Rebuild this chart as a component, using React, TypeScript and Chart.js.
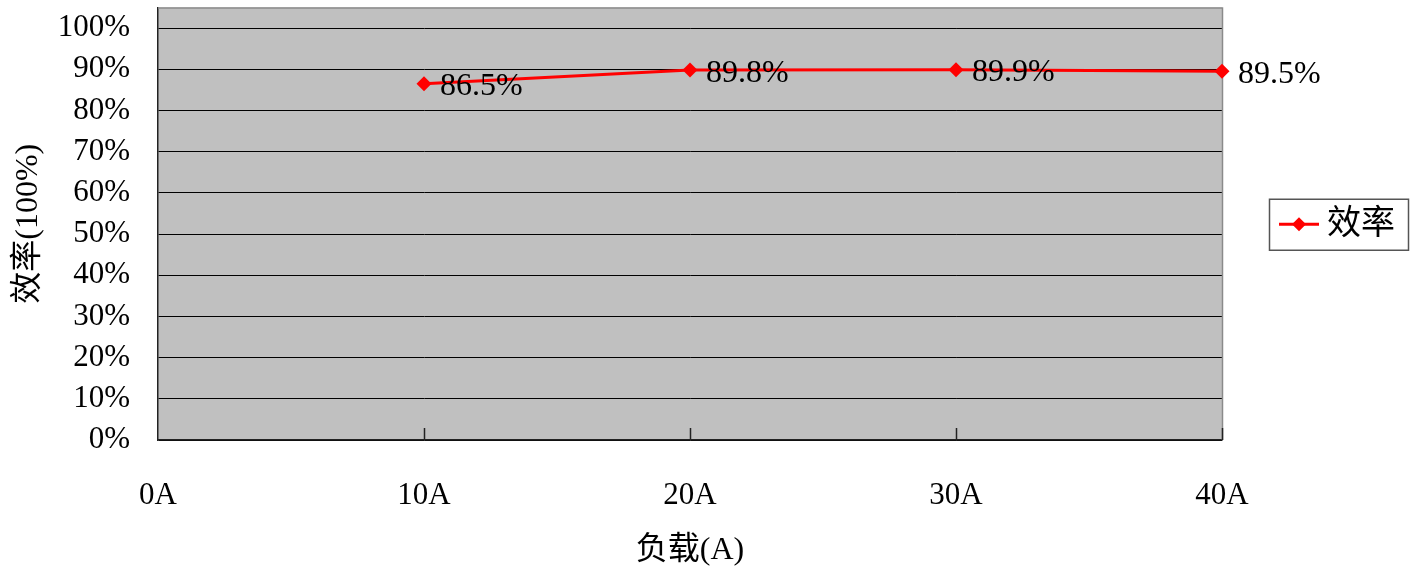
import React, { useEffect, useRef } from "react";
import { Chart, registerables } from "chart.js";

Chart.register(...registerables);

const loads = [10, 20, 30, 40];
const efficiency = [0.865, 0.898, 0.899, 0.895];
const xTickValues = [0, 10, 20, 30, 40];
const yTickValues = [0, 0.1, 0.2, 0.3, 0.4, 0.5, 0.6, 0.7, 0.8, 0.9, 1.0];
const seriesName = "效率";
const xTitle = "负载(A)";
const yTitle = "效率(100%)";

const FONT_FAMILY = "'Liberation Serif', 'Noto Sans CJK SC', serif";

const bgPlugin = {
  id: "plotBg",
  beforeDraw(chart: any) {
    const { ctx, chartArea } = chart;
    ctx.save();
    ctx.fillStyle = "#C0C0C0";
    ctx.fillRect(chartArea.left, chartArea.top, chartArea.right - chartArea.left, chartArea.bottom - chartArea.top);
    ctx.restore();
  },
  beforeDatasetsDraw(chart: any) {
    const { ctx, chartArea, scales } = chart;
    ctx.save();
    ctx.strokeStyle = "#8a8a8a";
    ctx.lineWidth = 1.5;
    ctx.beginPath();
    ctx.moveTo(chartArea.left, chartArea.top + 0.5);
    ctx.lineTo(chartArea.right + 0.5, chartArea.top + 0.5);
    ctx.lineTo(chartArea.right + 0.5, chartArea.bottom);
    ctx.stroke();
    ctx.strokeStyle = "#222";
    ctx.lineWidth = 1.5;
    const x = scales.x;
    x.ticks.forEach((t: any) => {
      if (t.value === 0) return;
      const px = Math.round(x.getPixelForValue(t.value)) + 0.5;
      ctx.beginPath();
      ctx.moveTo(px, chartArea.bottom);
      ctx.lineTo(px, chartArea.bottom - 12);
      ctx.stroke();
    });
    ctx.restore();
  },
  afterDatasetsDraw(chart: any) {
    const { ctx } = chart;
    const meta = chart.getDatasetMeta(0);
    ctx.save();
    ctx.font = `32px ${FONT_FAMILY}`;
    ctx.fillStyle = "#000";
    ctx.textAlign = "left";
    ctx.textBaseline = "middle";
    meta.data.forEach((pt: any, i: number) => {
      ctx.fillText((efficiency[i] * 100).toFixed(1) + "%", pt.x + 16, pt.y + 3);
    });
    ctx.restore();
  },
  afterDraw(chart: any) {
    const { ctx, chartArea } = chart;
    const bx = chartArea.right + 47;
    const by = (chartArea.top + chartArea.bottom) / 2 - 25;
    const bw = 139;
    const bh = 51;
    ctx.save();
    ctx.fillStyle = "#fff";
    ctx.fillRect(bx, by, bw, bh);
    ctx.strokeStyle = "#555";
    ctx.lineWidth = 1.5;
    ctx.strokeRect(bx + 0.5, by + 0.5, bw, bh);
    const cy = by + bh / 2;
    ctx.strokeStyle = "#FF0000";
    ctx.lineWidth = 3;
    ctx.beginPath();
    ctx.moveTo(bx + 10, cy);
    ctx.lineTo(bx + 50, cy);
    ctx.stroke();
    ctx.fillStyle = "#FF0000";
    ctx.beginPath();
    ctx.moveTo(bx + 30, cy - 7);
    ctx.lineTo(bx + 37, cy);
    ctx.lineTo(bx + 30, cy + 7);
    ctx.lineTo(bx + 23, cy);
    ctx.closePath();
    ctx.fill();
    ctx.fillStyle = "#000";
    ctx.font = `34px ${FONT_FAMILY}`;
    ctx.textAlign = "left";
    ctx.textBaseline = "middle";
    ctx.fillText(seriesName, bx + 58, cy + 1);
    ctx.restore();
  },
};

export default function App() {
  const ref = useRef<HTMLCanvasElement | null>(null);

  useEffect(() => {
    document.body.style.margin = "0";
    if (!ref.current) return;
    const font = { family: FONT_FAMILY, size: 31 };
    const chart = new Chart(ref.current, {
      type: "line",
      data: {
        datasets: [
          {
            label: seriesName,
            data: loads.map((x, i) => ({ x, y: efficiency[i] })) as any,
            borderColor: "#FF0000",
            backgroundColor: "#FF0000",
            borderWidth: 3,
            pointStyle: "rectRot",
            pointRadius: 7.5,
            pointHoverRadius: 7.5,
            pointBorderWidth: 0,
            tension: 0,
            clip: false as any,
          },
        ],
      },
      options: {
        animation: false,
        responsive: true,
        maintainAspectRatio: false,
        events: [],
        layout: { padding: { top: 6, right: 199, bottom: 0, left: 0 } },
        plugins: {
          legend: { display: false },
          tooltip: { enabled: false },
        },
        scales: {
          x: {
            type: "linear",
            min: 0,
            max: 40,
            afterBuildTicks: (s: any) => {
              s.ticks = xTickValues.map((v) => ({ value: v }));
            },
            ticks: {
              callback: (v: any) => v + "A",
              padding: 37,
              font,
              color: "#000",
              maxRotation: 0,
              autoSkip: false,
            },
            grid: { display: true, drawOnChartArea: false, drawTicks: false },
            border: { display: true, color: "#222", width: 1.5 },
            title: {
              display: true,
              text: xTitle,
              font: { family: FONT_FAMILY, size: 32 },
              color: "#000",
              padding: { top: 0, bottom: 2 },
            },
            afterFit: (s: any) => {
              s.height = 132;
              s.paddingLeft = 0;
              s.paddingRight = 0;
            },
          },
          y: {
            type: "linear",
            min: 0,
            max: 1.05,
            afterBuildTicks: (s: any) => {
              s.ticks = yTickValues.map((v) => ({ value: v }));
            },
            ticks: {
              callback: (v: any) => Math.round(Number(v) * 100) + "%",
              padding: 28,
              font,
              color: "#000",
              autoSkip: false,
            },
            grid: { color: "#000", lineWidth: 1, drawTicks: false },
            border: { display: true, color: "#222", width: 1.5 },
            title: {
              display: true,
              text: yTitle,
              font: { family: FONT_FAMILY, size: 32 },
              color: "#000",
              padding: { top: 9, bottom: 0 },
            },
            afterFit: (s: any) => {
              s.width = 158;
              s.paddingTop = 0;
              s.paddingBottom = 0;
            },
          },
        },
      },
      plugins: [bgPlugin],
    });
    return () => chart.destroy();
  }, []);

  return (
    <div style={{ width: 1421, height: 572, position: "relative" }}>
      <canvas ref={ref} />
    </div>
  );
}
